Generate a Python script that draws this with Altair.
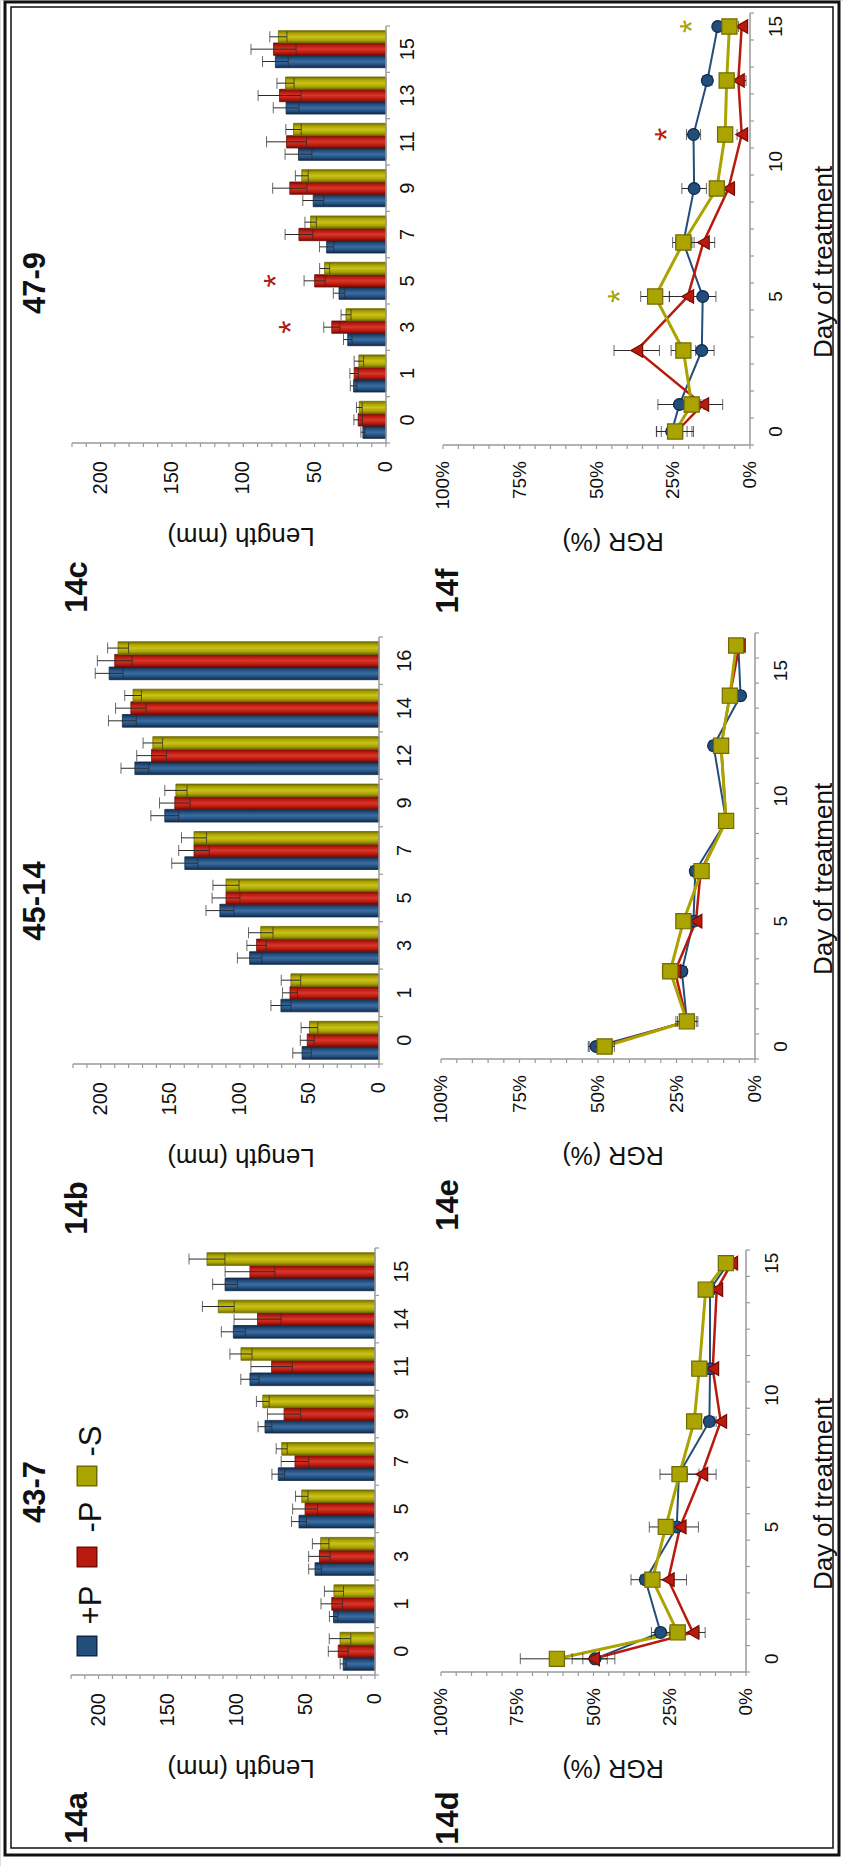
import altair as alt
import pandas as pd

W, H = 843, 1866
SANS = "Liberation Sans, Arial, Helvetica, sans-serif"
AXIS_GREY = "#9a9a9a"
INK = "#111111"

SERIES = ["+P", "-P", "-S"]
FILL = ["#234d7a", "#b81a0e", "#aaa300"]
EDGE = ["#10294a", "#720c05", "#6f6a00"]
SHAPES = ["circle", "triangle-left", "square"]
SIZES = [140, 230, 230]
WIDTHS = [2, 3, 3.5]

# ---------------- shoot length (mm): mean and error per treatment ----------------
a_days = [0, 1, 3, 5, 7, 9, 11, 14, 15]
a_len_pP = [23, 30, 43.4, 55, 70, 79.6, 90.5, 102.5, 108.5]
a_err_pP = [2.2, 3, 4.6, 5.4, 4.6, 5, 6.6, 8.7, 9]
a_len_mP = [26.6, 31.3, 40.2, 50.6, 57.9, 65.8, 74.8, 85, 90.5]
a_err_mP = [7.2, 7.8, 7.8, 9, 10, 12, 15, 17, 18]
a_len_mS = [25.3, 29.7, 39.3, 53, 67.5, 81.2, 97, 113.4, 121.6]
a_err_mS = [7.8, 6.9, 6, 4.5, 4, 4.6, 8, 11.5, 13]

b_days = [0, 1, 3, 5, 7, 9, 12, 14, 16]
b_len_pP = [55.3, 70.5, 93, 114.4, 139.6, 154, 175.5, 184.5, 194]
b_err_pP = [6.7, 7.2, 8.8, 10, 9.4, 10, 10, 10, 10]
b_len_mP = [51.6, 64, 88, 110, 133, 146.8, 163.5, 178.4, 190]
b_err_mP = [5, 5.4, 7, 10, 11, 11, 10.7, 11, 12.5]
b_len_mS = [50, 63.3, 85, 110, 133, 146, 162.6, 176.8, 187.6]
b_err_mS = [6, 7, 8.8, 9.4, 9, 8, 7, 6, 7.5]

c_days = [0, 1, 3, 5, 7, 9, 11, 13, 15]
c_len_pP = [16.2, 22.7, 26.8, 32.9, 41.6, 51, 61.3, 70, 77.5]
c_err_pP = [1.4, 2.3, 3, 4, 5, 7.3, 9.4, 9, 9]
c_len_mP = [19.5, 22.3, 38, 50, 61, 67.4, 69.7, 74.6, 78.8]
c_err_mP = [3, 3, 5.6, 7.4, 9.7, 12, 14, 15, 15.8]
c_len_mS = [18.7, 19, 28, 43, 52.8, 59, 64.8, 70.4, 75.4]
c_err_mS = [2, 3.3, 3.5, 3.5, 4, 4.5, 5.4, 6, 6]
c_star_days = [3, 5]
c_star_series = ["-P", "-P"]
c_star_len = [72, 83]

# ---------------- relative growth rate (%) ----------------
d_days = [0, 1, 3, 5, 7, 9, 11, 14, 15]
d_rgr_pP = [49.5, 28, 33, 22.7, 22, 12, 11.8, 11.8, 5.8]
d_err_pP = [4, 3, 1.5, 2, 2, 1.5, 1.5, 1.5, 1]
d_rgr_mP = [50, 17.4, 25.5, 21.6, 14.5, 8.3, 10.9, 9.6, 4.7]
d_err_mP = [7, 4, 6, 6, 4.7, 1.5, 1.5, 1.5, 1]
d_rgr_mS = [62, 22.4, 30.7, 26.3, 21.8, 17, 15.3, 13.2, 6.6]
d_err_mS = [12, 7, 7, 5.4, 6.4, 1.5, 1.5, 1.5, 1]

e_days = [0, 1, 3, 5, 7, 9, 12, 14, 16]
e_rgr_pP = [50.6, 21.7, 23.3, 19.6, 19, 9.2, 13.2, 4.6, 5.3]
e_err_pP = [2.5, 3, 1.5, 1.5, 1.5, 1, 1.2, 1, 0.8]
e_rgr_mP = [48.8, 21.7, 25.5, 18.8, 17.3, 9.2, 10.8, 8, 5]
e_err_mP = [4, 3.5, 1.5, 1.5, 1.5, 1, 1, 1, 0.8]
e_rgr_mS = [47.9, 21.7, 27, 22.8, 17, 9.2, 10.8, 8, 6]
e_err_mS = [2.5, 2, 2.5, 1.5, 1.5, 1, 1, 1, 0.8]

f_days = [0, 1, 3, 5, 7, 9, 11, 13, 15]
f_rgr_pP = [25.5, 23, 15.7, 15.4, 21.7, 18.2, 18.4, 13.9, 10.5]
f_err_pP = [5, 7, 4, 4.3, 2.5, 4, 2.3, 1.5, 1]
f_rgr_mP = [23.9, 15.4, 36.9, 20.3, 15.2, 7, 2.7, 3.8, 2.7]
f_err_mP = [5, 6.5, 7.4, 6, 3.7, 2, 1.5, 2.5, 1]
f_rgr_mS = [24.4, 19, 21.7, 30.9, 21.7, 10.8, 8.1, 7.6, 6.7]
f_err_mS = [6, 4, 4, 4.7, 3.5, 1.5, 1.5, 1.5, 1]
f_star_days = [5, 11, 15]
f_star_series = ["-S", "-P", "-S"]
f_star_rgr = [45, 29.5, 21.5]

# ---------------- axis ticks and labels ----------------
len_ticks = list(range(0, 221, 10))
len_labels = [0, 50, 100, 150, 200]
rgr_ticks = list(range(0, 101, 5))
rgr_labels = [0, 25, 50, 75, 100]
day_labels = [0, 5, 10, 15]

# ---------------- panel geometry (pixels) ----------------
# bar panels: x of length 0 and of 220 mm, y of top and bottom edge
GEO_A = dict(x=(375, 71), y=(1248, 1675))
GEO_B = dict(x=(379, 73), y=(637, 1064))
GEO_C = dict(x=(386, 72), y=(26, 443))
# line panels: x of RGR 0 % and of 100 %, y of top and bottom edge
GEO_D = dict(x=(746, 441), y=(1250, 1672))
GEO_E = dict(x=(755, 441), y=(633, 1059))
GEO_F = dict(x=(750, 443), y=(13, 445))
TICK = 4

color_fill = alt.Scale(domain=SERIES, range=FILL)
color_edge = alt.Scale(domain=SERIES, range=EDGE)
one = pd.DataFrame({"k": [0]})


def bevel(i):
    light = {0: "#3a6ea3", 1: "#d8372a", 2: "#c9c21c"}[i]
    return alt.Gradient(
        gradient="linear", x1=0, x2=0, y1=0, y2=1,
        stops=[alt.GradientStop(color=EDGE[i], offset=0),
               alt.GradientStop(color=FILL[i], offset=0.22),
               alt.GradientStop(color=light, offset=0.5),
               alt.GradientStop(color=FILL[i], offset=0.78),
               alt.GradientStop(color=EDGE[i], offset=1)])


def long_table(days, means, errs, key):
    rows = []
    for s, m_list, e_list in zip(SERIES, means, errs):
        for d, m, e in zip(days, m_list, e_list):
            rows.append({"day": d, "series": s, key: m, "lo": m - e, "hi": m + e})
    return pd.DataFrame(rows)


def text_at(txt, x, y, size, weight="bold", angle=270, align="center", baseline="middle"):
    return alt.Chart(one).mark_text(
        text=txt, font=SANS, fontSize=size, fontWeight=weight, angle=angle,
        align=align, baseline=baseline, color=INK).encode(x=alt.value(x), y=alt.value(y))


def bar_panel(days, means, errs, geo, day_pad, stars=None):
    df = long_table(days, means, errs, "len")
    df["day"] = df["day"].astype(str)
    x0, xmax = geo["x"]
    top, bottom = geo["y"]
    dom = [str(d) for d in days]
    half_gap = 0.1 * (bottom - top) / len(days)
    xs = alt.Scale(domain=[0, 220], range=[x0, xmax], nice=False, zero=True)
    ys = alt.Scale(domain=dom, range=[bottom, top], paddingInner=0.2, paddingOuter=0.1)
    offs = alt.Scale(domain=["-S", "-P", "+P"], paddingInner=0, paddingOuter=0)

    def X(f):
        return alt.X(f, scale=xs, axis=None)

    def Y(f="day:N", **kw):
        return alt.Y(f, scale=ys, axis=None, **kw)

    def O():
        return alt.YOffset("series:N", scale=offs)

    base = alt.Chart(df)
    layers = []
    for i, s in enumerate(SERIES):
        layers.append(base.transform_filter(alt.datum.series == s).mark_bar(
            color=bevel(i), stroke=EDGE[i], strokeWidth=0.8, opacity=1).encode(
            x=X("len:Q"), y=Y(), yOffset=O()))
    layers.append(base.mark_rule(color="#2a2a2a", strokeWidth=1).encode(
        x=X("lo:Q"), x2="hi:Q", y=Y(), yOffset=O()))
    for f in ("lo:Q", "hi:Q"):
        layers.append(base.mark_tick(color="#2a2a2a", thickness=1, size=11, orient="vertical").encode(
            x=X(f), y=Y(), yOffset=O()))
    if stars:
        sd = pd.DataFrame({"day": [str(d) for d in stars[0]], "series": stars[1], "len": stars[2]})
        layers.append(alt.Chart(sd).mark_text(
            text="*", font=SANS, fontSize=34, color="#b01c10", angle=270, dy=9).encode(
            x=X("len:Q"), y=Y(), yOffset=O()))

    # length axis along the bottom edge of the panel
    layers.append(alt.Chart(pd.DataFrame({"a": [0], "b": [220]})).mark_rule(
        color=AXIS_GREY, strokeWidth=1.5).encode(x=X("a:Q"), x2="b:Q", y=alt.value(bottom)))
    layers.append(alt.Chart(pd.DataFrame({"v": len_ticks})).mark_rule(
        color=AXIS_GREY, strokeWidth=1.2).encode(
        x=X("v:Q"), y=alt.value(bottom), y2=alt.value(bottom + TICK)))
    layers.append(alt.Chart(pd.DataFrame({"v": len_labels})).mark_text(
        font=SANS, fontSize=20, angle=270, align="right", baseline="middle", color=INK).encode(
        x=X("v:Q"), y=alt.value(bottom + 18), text="v:Q"))
    layers.append(text_at("Length (mm)", 241, bottom + 93, 26, weight="normal", angle=180))
    # day axis along the right edge, ticks between the day groups
    layers.append(alt.Chart(one).mark_rule(color=AXIS_GREY, strokeWidth=1.5).encode(
        x=alt.value(x0), y=alt.value(top), y2=alt.value(bottom)))
    tick_df = pd.DataFrame({"day": dom})
    layers.append(alt.Chart(tick_df).mark_rule(
        color=AXIS_GREY, strokeWidth=1.2, yOffset=-half_gap).encode(
        y=Y(bandPosition=0), x=alt.value(x0), x2=alt.value(x0 + TICK)))
    layers.append(alt.Chart(pd.DataFrame({"day": [dom[0]]})).mark_rule(
        color=AXIS_GREY, strokeWidth=1.2, yOffset=half_gap).encode(
        y=Y(bandPosition=1), x=alt.value(x0), x2=alt.value(x0 + TICK)))
    layers.append(alt.Chart(tick_df).mark_text(
        font=SANS, fontSize=20, angle=270, align="center", baseline="top", color=INK).encode(
        y=Y(), x=alt.value(x0 + day_pad), text="day:N"))
    return alt.layer(*layers)


def line_panel(days, means, errs, geo, dmax, stars=None):
    df = long_table(days, means, errs, "rgr")
    x0, x100 = geo["x"]
    top, bottom = geo["y"]
    xs = alt.Scale(domain=[0, 100], range=[x0, x100], nice=False, zero=False)
    ys = alt.Scale(domain=[-0.5, dmax + 0.5], range=[bottom, top], nice=False, zero=False)

    def X(f):
        return alt.X(f, scale=xs, axis=None)

    def Y(f="day:Q"):
        return alt.Y(f, scale=ys, axis=None)

    base = alt.Chart(df)
    layers = [
        base.mark_line(opacity=1).encode(
            x=X("rgr:Q"), y=Y(), order="day:Q",
            color=alt.Color("series:N", scale=color_fill, legend=None),
            strokeWidth=alt.StrokeWidth("series:N", scale=alt.Scale(domain=SERIES, range=WIDTHS),
                                        legend=None)),
        base.mark_rule(color="#2a2a2a", strokeWidth=1).encode(x=X("lo:Q"), x2="hi:Q", y=Y()),
        base.mark_tick(color="#2a2a2a", thickness=1, size=11, orient="vertical").encode(
            x=X("lo:Q"), y=Y()),
        base.mark_tick(color="#2a2a2a", thickness=1, size=11, orient="vertical").encode(
            x=X("hi:Q"), y=Y()),
        base.mark_point(filled=True, opacity=1, strokeWidth=1.2).encode(
            x=X("rgr:Q"), y=Y(),
            shape=alt.Shape("series:N", scale=alt.Scale(domain=SERIES, range=SHAPES), legend=None),
            size=alt.Size("series:N", scale=alt.Scale(domain=SERIES, range=SIZES), legend=None),
            fill=alt.Fill("series:N", scale=color_fill, legend=None),
            stroke=alt.Stroke("series:N", scale=color_edge, legend=None)),
    ]
    if stars:
        sd = pd.DataFrame({"day": stars[0], "series": stars[1], "rgr": stars[2]})
        layers.append(alt.Chart(sd).mark_text(
            text="*", font=SANS, fontSize=34, angle=270, dy=9).encode(
            x=X("rgr:Q"), y=Y(),
            color=alt.Color("series:N", scale=alt.Scale(
                domain=SERIES, range=["#1f4672", "#b01c10", "#9c9600"]), legend=None)))

    # RGR axis along the bottom edge
    layers.append(alt.Chart(pd.DataFrame({"a": [0], "b": [100]})).mark_rule(
        color=AXIS_GREY, strokeWidth=1.5).encode(x=X("a:Q"), x2="b:Q", y=alt.value(bottom)))
    layers.append(alt.Chart(pd.DataFrame({"v": rgr_ticks})).mark_rule(
        color=AXIS_GREY, strokeWidth=1.2).encode(
        x=X("v:Q"), y=alt.value(bottom), y2=alt.value(bottom + TICK)))
    layers.append(alt.Chart(pd.DataFrame({"v": rgr_labels})).transform_calculate(
        lab="datum.v + '%'").mark_text(
        font=SANS, fontSize=19, angle=270, align="right", baseline="middle", color=INK).encode(
        x=X("v:Q"), y=alt.value(bottom + 16), text="lab:N"))
    layers.append(text_at("RGR (%)", 613, bottom + 96, 25, weight="normal", angle=180))
    # day axis: ticks sit between whole days, labels every fifth day
    half_days = [i + 0.5 for i in range(-1, dmax + 1)]
    layers.append(alt.Chart(pd.DataFrame({"a": [half_days[0]], "b": [half_days[-1]]})).mark_rule(
        color=AXIS_GREY, strokeWidth=1.5).encode(y=Y("a:Q"), y2="b:Q", x=alt.value(x0)))
    layers.append(alt.Chart(pd.DataFrame({"day": half_days})).mark_rule(
        color=AXIS_GREY, strokeWidth=1.2).encode(
        y=Y(), x=alt.value(x0), x2=alt.value(x0 + TICK)))
    layers.append(alt.Chart(pd.DataFrame({"day": day_labels})).mark_text(
        font=SANS, fontSize=19, angle=270, align="center", baseline="top", color=INK).encode(
        y=Y(), x=alt.value(x0 + 17), text="day:Q"))
    layers.append(text_at("Day of treatment", 824, (top + bottom) / 2 + 33, 26, weight="normal"))
    return alt.layer(*layers)


def swatch(x, y, i):
    return alt.Chart(one).mark_square(size=380, filled=True, opacity=1, fill=FILL[i],
                                      stroke=EDGE[i], strokeWidth=1.5).encode(
        x=alt.value(x), y=alt.value(y))


frame_outer = alt.Chart(one).mark_rect(fillOpacity=0, stroke="#111", strokeWidth=3).encode(
    x=alt.value(5), x2=alt.value(839), y=alt.value(2), y2=alt.value(1855))
frame_inner = alt.Chart(one).mark_rect(fillOpacity=0, stroke="#111", strokeWidth=1.5).encode(
    x=alt.value(11), x2=alt.value(833), y=alt.value(7), y2=alt.value(1848))

panel_a = bar_panel(a_days, [a_len_pP, a_len_mP, a_len_mS], [a_err_pP, a_err_mP, a_err_mS], GEO_A, 17)
panel_b = bar_panel(b_days, [b_len_pP, b_len_mP, b_len_mS], [b_err_pP, b_err_mP, b_err_mS], GEO_B, 16)
panel_c = bar_panel(c_days, [c_len_pP, c_len_mP, c_len_mS], [c_err_pP, c_err_mP, c_err_mS], GEO_C, 12,
                    stars=(c_star_days, c_star_series, c_star_len))
panel_d = line_panel(d_days, [d_rgr_pP, d_rgr_mP, d_rgr_mS], [d_err_pP, d_err_mP, d_err_mS], GEO_D, 15)
panel_e = line_panel(e_days, [e_rgr_pP, e_rgr_mP, e_rgr_mS], [e_err_pP, e_err_mP, e_err_mS], GEO_E, 16)
panel_f = line_panel(f_days, [f_rgr_pP, f_rgr_mP, f_rgr_mS], [f_err_pP, f_err_mP, f_err_mS], GEO_F, 15,
                     stars=(f_star_days, f_star_series, f_star_rgr))

labels = [
    text_at("14a", 78, 1818, 31), text_at("14b", 78, 1208, 31), text_at("14c", 78, 587, 31),
    text_at("14d", 449, 1818, 31), text_at("14e", 449, 1205, 31), text_at("14f", 449, 591, 31),
    text_at("43-7", 36, 1492, 31), text_at("45-14", 36, 901, 31), text_at("47-9", 36, 283, 31),
    swatch(87, 1646, 0), swatch(87, 1557, 1), swatch(87, 1476, 2),
    text_at("+P", 92, 1605, 31, weight="normal"),
    text_at("-P", 92, 1517, 31, weight="normal"),
    text_at("-S", 92, 1441, 31, weight="normal"),
]

chart = alt.layer(
    frame_outer, frame_inner, panel_a, panel_b, panel_c, panel_d, panel_e, panel_f, *labels
).resolve_scale(
    x="independent", y="independent", yOffset="independent"
).properties(
    width=W, height=H, padding=0, autosize=alt.AutoSizeParams(type="none")
).configure_view(stroke=None).configure(background="white")

chart.save("out.html", embed_options={"renderer": "svg", "actions": False})
